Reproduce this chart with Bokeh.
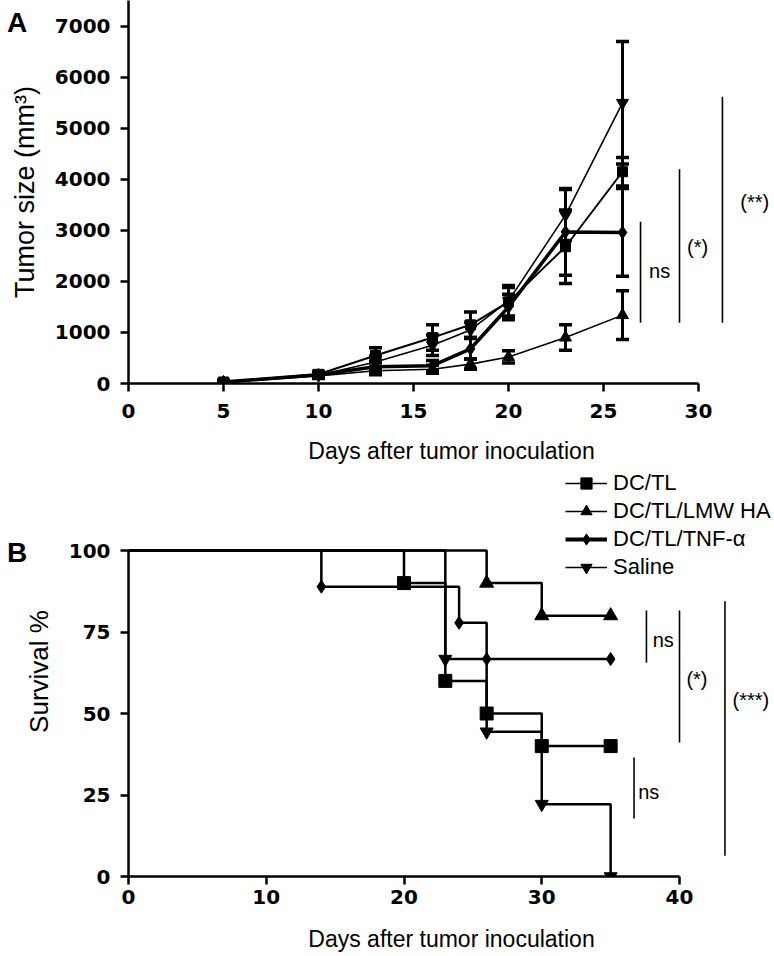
from bokeh.plotting import figure
from bokeh.models import (Range1d, Whisker, TeeHead, ColumnDataSource, Div,
                          Legend, LegendItem, FixedTicker)
from bokeh.layouts import column
from bokeh.embed import file_html
from bokeh.resources import INLINE

# ---------------- Panel A data: tumour size (mm^3) ----------------
days = [5, 10, 13, 16, 18, 20, 23, 26]
dctl = [30, 180, 550, 900, 1150, 1600, 2680, 4150]
dctl_err = [20, 60, 150, 250, 250, 280, 720, 280]
lmw = [20, 150, 250, 280, 380, 520, 900, 1340]
lmw_err = [15, 50, 80, 80, 100, 120, 250, 480]
tnf = [30, 170, 330, 350, 680, 1500, 2970, 2960]
tnf_err = [20, 50, 100, 100, 200, 250, 850, 860]
saline = [30, 160, 420, 750, 1050, 1620, 3300, 5500]
saline_err = [20, 50, 120, 200, 150, 300, 500, 1200]

# ---------------- Panel B data: survival (%) ----------------
dctl_t = [0, 20, 23, 26, 30, 35]
dctl_s = [100, 90, 60, 50, 40, 40]
lmw_t = [0, 26, 30, 35]
lmw_s = [100, 90, 80, 80]
tnf_t = [0, 14, 24, 26, 35]
tnf_s = [100, 88.9, 77.8, 66.7, 66.7]
saline_t = [0, 23, 26, 30, 35]
saline_s = [100, 66.7, 44.4, 22.2, 0]

series_names = ["DC/TL", "DC/TL/LMW HA", "DC/TL/TNF-\u03b1", "Saline"]
markers = ["square", "triangle", "diamond", "inverted_triangle"]

# significance brackets: (x, y_low, y_high, label, label_x, label_y)
sig_a = [(26.95, 1190, 3170, "ns", 27.4, 2200),
         (29.0, 1190, 4200, "(*)", 29.4, 2680),
         (31.26, 1190, 5620, "(**)", 32.2, 3560)]
sig_b = [(37.6, 65.6, 81.6, "ns", 38.05, 72.4),
         (40.0, 41.1, 81.6, "(*)", 40.5, 60.7),
         (43.3, 6.4, 84.4, "(***)", 43.85, 54.0),
         (36.7, 17.8, 36.5, "ns", 37.0, 25.8)]

W = 774
TICK_FONT = "DejaVu Sans"
TEXT_FONT = "Liberation Sans"


def style(p, xticks, yticks, xbounds, ybounds, xlabel, ylabel, ylab_size,
          x_std, x_lab_std):
    p.xaxis.ticker = FixedTicker(ticks=xticks)
    p.yaxis.ticker = FixedTicker(ticks=yticks)
    p.xaxis.bounds = xbounds
    p.yaxis.bounds = ybounds
    p.xaxis.axis_label = xlabel
    p.yaxis.axis_label = ylabel
    for ax in (p.xaxis[0], p.yaxis[0]):
        ax.axis_line_width = 2.5
        ax.axis_line_color = "black"
        ax.major_tick_line_width = 2.5
        ax.major_tick_line_color = "black"
        ax.major_tick_out = 8
        ax.major_tick_in = 0
        ax.minor_tick_line_color = None
        ax.major_label_text_font = TICK_FONT
        ax.major_label_text_font_style = "bold"
        ax.major_label_text_font_size = "20px"
        ax.major_label_text_color = "black"
        ax.axis_label_text_font = TEXT_FONT
        ax.axis_label_text_font_style = "normal"
        ax.axis_label_text_color = "black"
    p.xaxis.axis_label_text_font_size = "23px"
    p.yaxis.axis_label_text_font_size = ylab_size
    p.xaxis.major_label_standoff = x_std
    p.xaxis.axis_label_standoff = x_lab_std
    p.yaxis.major_label_standoff = 10
    p.yaxis.axis_label_standoff = 12
    p.grid.visible = False
    p.outline_line_color = None
    p.background_fill_color = "white"
    p.border_fill_color = "white"


def brackets(p, sig):
    for x, y0, y1, lab, lx, ly in sig:
        p.segment(x0=[x], y0=[y0], x1=[x], y1=[y1], line_color="black", line_width=1.6)
        p.text(x=[lx], y=[ly], text=[lab], text_font_size="20px",
               text_baseline="middle", text_align="left", text_color="black",
               text_font={"value": TEXT_FONT})


# ---------------- Panel A ----------------
hA = 466
frame_left = 128
frame_bottom_A = 386
yscale_A = 360 / 7000.0   # px per mm^3
pA = figure(width=W, height=hA, output_backend="svg", toolbar_location=None,
            x_range=Range1d(0, (W - frame_left) / 19.0),
            y_range=Range1d(0, frame_bottom_A / yscale_A),
            min_border_left=frame_left, min_border_right=0, min_border_top=0,
            min_border_bottom=hA - frame_bottom_A)
style(pA, [0, 5, 10, 15, 20, 25, 30], list(range(0, 7001, 1000)), (0, 30),
      (0, frame_bottom_A / yscale_A),
      "Days after tumor inoculation", "Tumor size (mm\u00b3)", "27px", 12, 17)

a_vals = [dctl, lmw, tnf, saline]
a_errs = [dctl_err, lmw_err, tnf_err, saline_err]
a_lw = [2.0, 1.6, 3.5, 1.6]
a_size = [10, 12, 13, 12]
for vals, errs in zip(a_vals, a_errs):
    src = ColumnDataSource(dict(x=days, upper=[v + e for v, e in zip(vals, errs)],
                                lower=[v - e for v, e in zip(vals, errs)]))
    w = Whisker(source=src, base="x", upper="upper", lower="lower",
                line_width=3, line_color="black",
                upper_head=TeeHead(size=13, line_width=3.5, line_color="black"),
                lower_head=TeeHead(size=13, line_width=3.5, line_color="black"))
    pA.add_layout(w)
for vals, lw in zip(a_vals, a_lw):
    pA.line(days, vals, line_color="black", line_width=lw)
for vals, mk, sz in zip(a_vals, markers, a_size):
    pA.scatter(days, vals, marker=mk, size=sz, fill_color="black", line_color="black")
brackets(pA, sig_a)

# ---------------- Panel B ----------------
hB = 956 - hA
frame_bottom_B = 876 - hA
yscale_B = 3.26  # px per %
pB = figure(width=W, height=hB, output_backend="svg", toolbar_location=None,
            x_range=Range1d(0, (W - frame_left) / 13.775),
            y_range=Range1d(0, frame_bottom_B / yscale_B),
            min_border_left=frame_left, min_border_right=0, min_border_top=0,
            min_border_bottom=hB - frame_bottom_B)
style(pB, [0, 10, 20, 30, 40], [0, 25, 50, 75, 100], (0, 40), (0, 100),
      "Days after tumor inoculation", "Survival %", "26px", 5, 19)

b_t = [dctl_t, lmw_t, tnf_t, saline_t]
b_s = [dctl_s, lmw_s, tnf_s, saline_s]
b_size = [13, 14, 13, 13]
for t, s in zip(b_t, b_s):
    pB.step(t, s, mode="after", line_color="black", line_width=2.5)
for t, s, mk, sz in zip(b_t, b_s, markers, b_size):
    pB.scatter(t[1:], s[1:], marker=mk, size=sz, fill_color="black", line_color="black")
brackets(pB, sig_b)

# legend with proxy renderers placed outside the visible range
leg_lw = [1.6, 1.6, 4.0, 1.6]
leg_size = [9, 11, 14, 9]
px = [pB.x_range.start - 50]
py = [pB.y_range.start - 50]
items = []
for name, mk, lw, sz in zip(series_names, markers, leg_lw, leg_size):
    lr = pB.line(x=px, y=py, line_color="black", line_width=lw)
    sr = pB.scatter(x=px, y=py, marker=mk, size=sz, fill_color="black", line_color="black")
    items.append(LegendItem(label=name, renderers=[lr, sr]))
legend = Legend(items=items, location=(565 - frame_left, frame_bottom_B - 3 - 112),
                glyph_width=42, glyph_height=28, label_height=28, label_standoff=6,
                spacing=0, padding=0, margin=0, border_line_color=None,
                background_fill_alpha=0, label_text_font=TEXT_FONT,
                label_text_font_size="22px", label_text_color="black")
pB.add_layout(legend)

# panel letters
def letter(txt, left, top):
    return Div(text=txt, width=32, height=32, margin=0,
               styles={"position": "absolute", "left": f"{left}px", "top": f"{top}px",
                       "font-family": TEXT_FONT, "font-weight": "bold",
                       "font-size": "28px", "line-height": "28px", "color": "black"})

divA = letter("A", 7, 9)
divB = letter("B", 7, 539)

layout = column(pA, pB, divA, divB, spacing=0)
html = file_html(layout, INLINE, title="Tumor growth and survival")
open("out.html", "w").write(html)
